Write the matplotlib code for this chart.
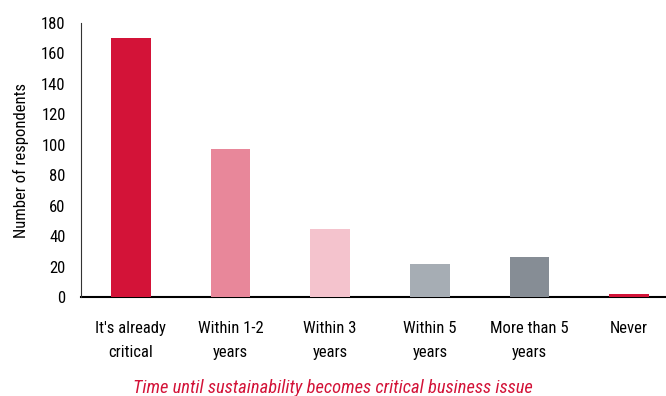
import matplotlib
matplotlib.use("Agg")
import matplotlib.pyplot as plt
from matplotlib import font_manager

categories = ["It's already\ncritical", "Within 1-2\nyears", "Within 3\nyears",
              "Within 5\nyears", "More than 5\nyears", "Never"]
values = [170, 97, 45, 22, 26, 2]
colors = ["#D31338", "#E8879A", "#F4C3CD", "#A6ADB4", "#868D95", "#D31338"]
yticks = [0, 20, 40, 60, 80, 100, 120, 140, 160, 180]

names = {f.name for f in font_manager.fontManager.ttflist}
fam = "Liberation Sans"
for cand in ["Liberation Sans Narrow", "Arial Narrow", "Roboto Condensed",
             "Archivo Narrow", "Asap Condensed"]:
    if cand in names:
        fam = cand
        break
plt.rcParams["font.family"] = [fam, "DejaVu Sans"]

fig = plt.figure(figsize=(6.66, 3.96), dpi=100)
ax = fig.add_axes([81/666, 1-297/396, (679-81)/666, (297-23)/396])
x = list(range(len(categories)))
ax.bar(x, values, width=0.4, color=colors, zorder=3)
ax.set_xlim(-0.5, 5.5)
ax.set_ylim(0, 180)
ax.set_yticks(yticks)
ax.set_xticks(x)
ax.set_xticklabels(categories, fontsize=12, color="black", linespacing=1.8)
ax.tick_params(axis="both", length=0, labelsize=12)
ax.tick_params(axis="y", pad=11)
ax.tick_params(axis="x", pad=17)
for s in ["top", "right"]:
    ax.spines[s].set_visible(False)
ax.spines["left"].set_color("#333333")
ax.spines["left"].set_linewidth(0.8)
ax.spines["bottom"].set_color("black")
ax.spines["bottom"].set_linewidth(1.5)
ax.spines["bottom"].set_zorder(2)
ax.set_ylabel("Number of respondents", fontsize=12, labelpad=9)
fig.text(0.5, 3/396, "Time until sustainability becomes critical business issue",
         ha="center", va="baseline", fontsize=13.3, style="italic", color="#D31338")
fig.savefig("out.png", dpi=100)
